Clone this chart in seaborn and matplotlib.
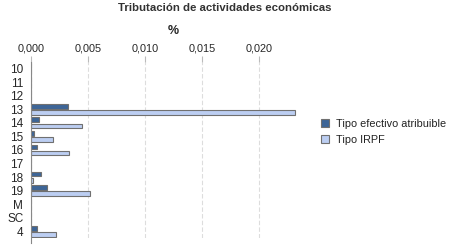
import matplotlib
matplotlib.use("Agg")
import matplotlib.pyplot as plt
import seaborn as sns
import pandas as pd
from matplotlib.ticker import FuncFormatter

categories = ["10", "11", "12", "13", "14", "15", "16", "17", "18", "19", "M", "SC", "4"]
tipo_efectivo = [0, 0, 0, 0.00322, 0.00067, 0.00030, 0.00055, 0, 0.00090, 0.00138, 0, 0, 0.00055]
tipo_irpf = [0, 0, 0, 0.02316, 0.00450, 0.00196, 0.00336, 0, 0.00020, 0.00520, 0, 0, 0.00222]
series_names = ["Tipo efectivo atribuible", "Tipo IRPF"]
xticks = [0.0, 0.005, 0.010, 0.015, 0.020]

df = pd.DataFrame({
    "cat": categories * 2,
    "val": tipo_efectivo + tipo_irpf,
    "serie": [series_names[0]] * len(categories) + [series_names[1]] * len(categories),
})

sns.set_style("white")
plt.rcParams["font.family"] = ["Liberation Sans", "DejaVu Sans"]

fig = plt.figure(figsize=(4.5, 2.5), dpi=100)
ax = fig.add_axes([31 / 450, 12 / 250, (316 - 31) / 450, (238 - 62) / 250])

sns.barplot(data=df, x="val", y="cat", hue="serie", orient="h",
            palette=["#2E64A6", "#B3CBFB"], edgecolor="#707070", linewidth=0.8,
            width=0.9, gap=0.2, ax=ax, order=categories, hue_order=series_names)

ax.set_xlim(0, 0.025)
ax.set_ylim(len(categories) - 0.5, -0.5)
ax.set_xticks(xticks)
ax.xaxis.set_major_formatter(FuncFormatter(lambda v, p: f"{v:.3f}".replace(".", ",")))
ax.xaxis.tick_top()
ax.xaxis.set_label_position("top")
ax.tick_params(axis="x", which="both", top=True, length=4, color="#BBBBBB", labelsize=7.8, pad=2)
ax.tick_params(axis="y", left=False, labelsize=8.5, pad=2)
ax.set_xlabel("%", fontsize=9, fontweight="bold", labelpad=7)
ax.set_ylabel("")
ax.grid(axis="x", color="#DDDDDD", linestyle=(0, (4, 2)), linewidth=0.8)
ax.set_axisbelow(True)
for s in ["top", "right", "bottom"]:
    ax.spines[s].set_visible(False)
ax.spines["left"].set_color("#888888")
ax.spines["left"].set_linewidth(0.8)
ax.spines["left"].set_bounds(len(categories) - 0.5 + 0.35, -0.5)

leg = ax.legend(loc="upper left", bbox_to_anchor=(321 / 450, 1 - 119 / 250),
                bbox_transform=fig.transFigure, frameon=False,
                fontsize=7.8, handlelength=0.75, handleheight=0.75, handletextpad=0.6,
                labelspacing=0.55, borderaxespad=0, borderpad=0)
for t in leg.get_texts():
    t.set_color("#222222")

fig.text(0.5, 1 - 8 / 250, "Tributación de actividades económicas", ha="center", va="center",
         fontsize=8.2, fontweight="bold", color="#333333")

fig.savefig("out.png", dpi=100)
